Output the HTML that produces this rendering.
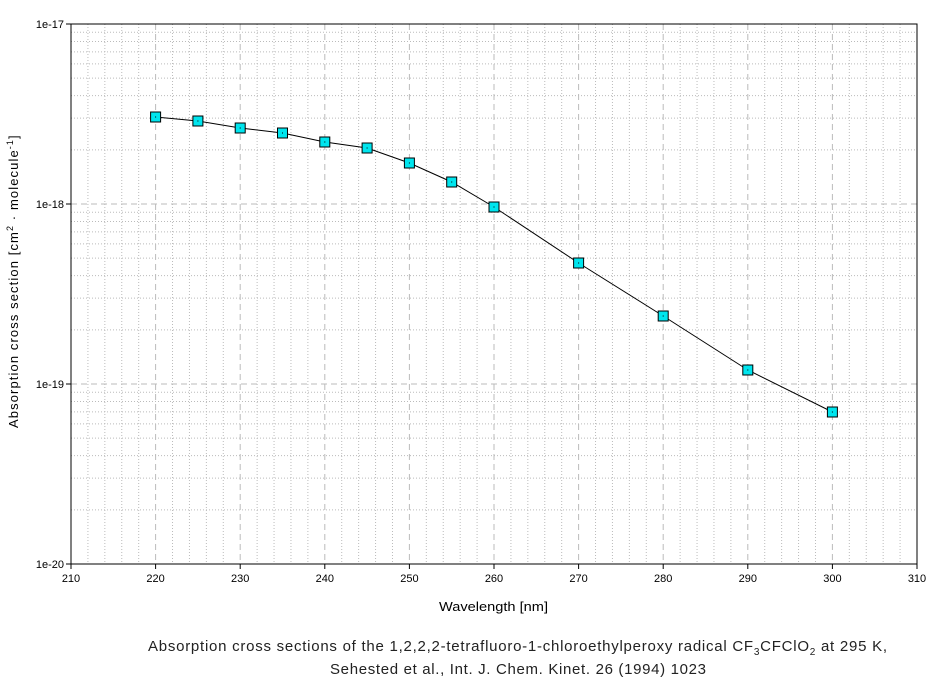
<!DOCTYPE html>
<html><head><meta charset="utf-8"><style>
body{margin:0;background:#fff;}
svg{display:block;font-family:"Liberation Sans",sans-serif;}
</style></head><body>
<svg id="s" width="940" height="680" viewBox="0 0 940 680" xmlns="http://www.w3.org/2000/svg"></svg>
<script>
const s=document.getElementById('s');
const X0=71,X1=917,Y0=24,Y1=564;
const xp=v=>X0+(v-210)*(X1-X0)/100;
const yp=l=>Y1-(l+20)*(Y1-Y0)/3;
let h='';
for(let v=212;v<310;v+=2){if(v%10)h+=`<line x1="${xp(v)}" y1="${Y0}" x2="${xp(v)}" y2="${Y1}" stroke="#bbb" stroke-dasharray="1,2"/>`;}
for(let d=-20;d<-17;d++)for(let m=2;m<10;m++){const y=yp(d+Math.log10(m));h+=`<line x1="${X0}" y1="${y}" x2="${X1}" y2="${y}" stroke="#bbb" stroke-dasharray="1,2"/>`;}
for(let v=220;v<310;v+=10)h+=`<line x1="${xp(v)}" y1="${Y0}" x2="${xp(v)}" y2="${Y1}" stroke="#bbb" stroke-dasharray="6,4"/>`;
for(let d=-19;d<-17;d++)h+=`<line x1="${X0}" y1="${yp(d)}" x2="${X1}" y2="${yp(d)}" stroke="#bbb" stroke-dasharray="6,4"/>`;
h+=`<rect x="${X0}" y="${Y0}" width="${X1-X0}" height="${Y1-Y0}" fill="none" stroke="#000" stroke-width="1"/>`;
for(let v=210;v<=310;v+=10){h+=`<line x1="${xp(v)}" y1="${Y1}" x2="${xp(v)}" y2="${Y1+5}" stroke="#000"/><text x="${xp(v)}" y="${Y1+18}" font-size="11" text-anchor="middle">${v}</text>`;}
for(let d=-20;d<=-17;d++){h+=`<line x1="${X0-5}" y1="${yp(d)}" x2="${X0}" y2="${yp(d)}" stroke="#000"/><text x="${X0-7}" y="${yp(d)+4}" font-size="11" text-anchor="end">1e${d}</text>`;}
const py={220:117,225:121,230:128,235:133,240:142,245:148,250:163,255:182,260:207,270:263,280:316,290:370,300:412};
const pts=Object.keys(py).map(k=>[xp(+k),py[k]]);
h+=`<polyline points="${pts.map(p=>p.join(',')).join(' ')}" fill="none" stroke="#000"/>`;
for(const p of pts)h+=`<rect x="${p[0]-5}" y="${p[1]-5}" width="10" height="10" fill="#00e5ee" stroke="#000"/><rect x="${p[0]-0.5}" y="${p[1]-0.5}" width="1" height="1" fill="#000"/>`;
h+=`<text x="439" y="611" font-size="13" textLength="109" lengthAdjust="spacingAndGlyphs">Wavelength [nm]</text>`;
h+=`<text transform="translate(18,428) rotate(-90)" font-size="13" letter-spacing="1.1">Absorption cross section [cm<tspan font-size="9" dy="-5">2</tspan><tspan dy="5"> · molecule</tspan><tspan font-size="9" dy="-5">-1</tspan><tspan dy="5">]</tspan></text>`;
h+=`<text x="148" y="651" font-size="15" fill="#222" letter-spacing="0.75">Absorption cross sections of the 1,2,2,2-tetrafluoro-1-chloroethylperoxy radical CF<tspan font-size="10" dy="4">3</tspan><tspan dy="-4">CFClO</tspan><tspan font-size="10" dy="4">2</tspan><tspan dy="-4"> at 295 K,</tspan></text>`;
h+=`<text x="330" y="674" font-size="15" fill="#222" textLength="376" lengthAdjust="spacing">Sehested et al., Int. J. Chem. Kinet. 26 (1994) 1023</text>`;
s.innerHTML=h;
</script>
</body></html>
